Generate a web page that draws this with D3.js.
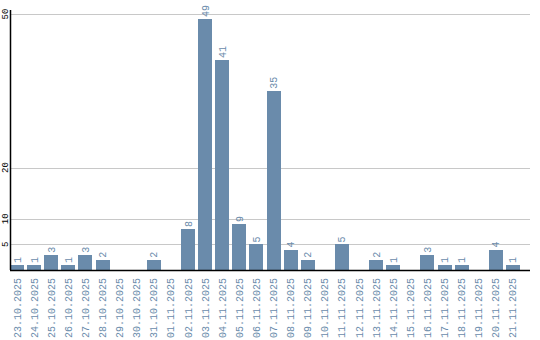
<!DOCTYPE html>
<html>
<head>
<meta charset="utf-8">
<script src="https://cdn.jsdelivr.net/npm/d3@7"></script>
<style>
  body { margin: 0; background: #fff; }
  text { font-family: "Liberation Mono", "DejaVu Sans Mono", monospace; }
</style>
</head>
<body>
<script>
// categories and values
var days = ["23.10.2025", "24.10.2025", "25.10.2025", "26.10.2025", "27.10.2025",
            "28.10.2025", "29.10.2025", "30.10.2025", "31.10.2025", "01.11.2025",
            "02.11.2025", "03.11.2025", "04.11.2025", "05.11.2025", "06.11.2025",
            "07.11.2025", "08.11.2025", "09.11.2025", "10.11.2025", "11.11.2025",
            "12.11.2025", "13.11.2025", "14.11.2025", "15.11.2025", "16.11.2025",
            "17.11.2025", "18.11.2025", "19.11.2025", "20.11.2025", "21.11.2025"];
var counts = [1, 1, 3, 1, 3, 2, 0, 0, 2, 0,
              8, 49, 41, 9, 5, 35, 4, 2, 0, 5,
              0, 2, 1, 0, 3, 1, 1, 0, 4, 1];
var yTicks = [5, 10, 20, 50];

// note: "top" is reserved on window, so plot edges get their own names
var W = 540, H = 340,
    plotL = 10, plotR = 530, plotT = 14, base = 270;
var barColor = "#6a8bab", textColor = "#6a8bab";

var svg = d3.select("body").append("svg")
    .attr("width", W).attr("height", H);

var x = d3.scaleBand()
    .domain(days)
    .range([plotL, plotL + days.length * 17])
    .paddingInner(0.18)
    .paddingOuter(0);

var y = d3.scaleLinear()
    .domain([0, 50])
    .range([base, plotT]);

// grid lines
svg.append("g").selectAll("line")
    .data(yTicks)
  .enter().append("line")
    .attr("x1", plotL).attr("x2", plotR)
    .attr("y1", function(d) { return Math.round(y(d)) + 0.5; })
    .attr("y2", function(d) { return Math.round(y(d)) + 0.5; })
    .attr("stroke", "#c8c8c8")
    .attr("stroke-width", 1);

// y tick labels, rotated
svg.append("g").selectAll("text")
    .data(yTicks)
  .enter().append("text")
    .attr("transform", function(d) { return "translate(5," + y(d) + ") rotate(-90)"; })
    .attr("text-anchor", "middle")
    .attr("dy", "0.35em")
    .attr("font-size", 9)
    .attr("fill", "#000")
    .text(function(d) { return d; });

// bars
svg.append("g").selectAll("rect")
    .data(counts)
  .enter().append("rect")
    .attr("x", function(d, i) { return x(days[i]); })
    .attr("y", function(d) { return y(d); })
    .attr("width", x.bandwidth())
    .attr("height", function(d) { return base - y(d); })
    .attr("fill", barColor)
    .attr("shape-rendering", "crispEdges");

// value labels above bars
var vals = svg.append("g");
counts.forEach(function(d, i) {
  if (d === 0) return;
  vals.append("text")
    .attr("transform", "translate(" + (x(days[i]) + x.bandwidth() / 2) + "," + (y(d) - 2) + ") rotate(-90)")
    .attr("dy", "0.35em")
    .attr("font-size", 10)
    .attr("fill", textColor)
    .text(d);
});

// axis lines
svg.append("line")
    .attr("x1", plotL + 0.5).attr("x2", plotL + 0.5)
    .attr("y1", 10).attr("y2", base)
    .attr("stroke", "#000").attr("stroke-width", 1.5);
svg.append("line")
    .attr("x1", plotL).attr("x2", plotR)
    .attr("y1", base + 0.5).attr("y2", base + 0.5)
    .attr("stroke", "#000").attr("stroke-width", 1.5);

// date labels
svg.append("g").selectAll("text")
    .data(days)
  .enter().append("text")
    .attr("transform", function(d) {
      return "translate(" + (x(d) + x.bandwidth() / 2) + "," + (base + 8) + ") rotate(-90)";
    })
    .attr("text-anchor", "end")
    .attr("dy", "0.35em")
    .attr("font-size", 10)
    .attr("fill", textColor)
    .text(function(d) { return d; });
</script>
</body>
</html>
